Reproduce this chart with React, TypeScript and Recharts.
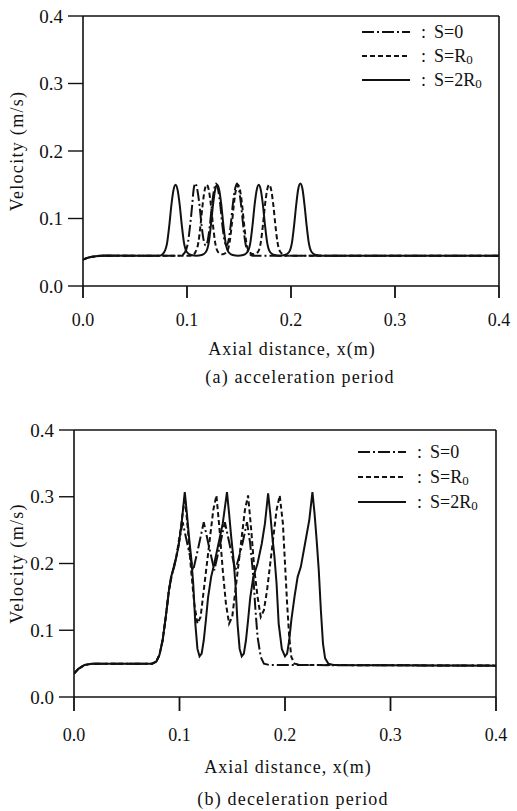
import React from "react";
import { LineChart, Line, XAxis, YAxis, ReferenceLine } from "recharts";

const X_TICKS = [0, 0.1, 0.2, 0.3, 0.4];
const Y_TICKS = [0, 0.1, 0.2, 0.3, 0.4];

// (a) acceleration period — [x (m), velocity (m/s)]
const accS0: number[][] = [
  [0, 0.039], [0.005, 0.042], [0.012, 0.044], [0.02, 0.045], [0.094, 0.045],
  [0.098, 0.05], [0.101, 0.065], [0.103, 0.09], [0.105, 0.12], [0.106, 0.138],
  [0.108, 0.152], [0.11, 0.142], [0.112, 0.12], [0.114, 0.09], [0.116, 0.068],
  [0.118, 0.06], [0.12, 0.068], [0.122, 0.09], [0.124, 0.12], [0.126, 0.142],
  [0.128, 0.152], [0.13, 0.142], [0.132, 0.12], [0.134, 0.09], [0.136, 0.068],
  [0.138, 0.06], [0.14, 0.068], [0.142, 0.09], [0.144, 0.12], [0.146, 0.142],
  [0.148, 0.152], [0.15, 0.142], [0.152, 0.12], [0.154, 0.09], [0.156, 0.065],
  [0.159, 0.05], [0.163, 0.045], [0.4, 0.045],
];
const accSR: number[][] = [
  [0, 0.039], [0.005, 0.042], [0.012, 0.044], [0.02, 0.045], [0.105, 0.045],
  [0.108, 0.05], [0.111, 0.065], [0.113, 0.09], [0.115, 0.12], [0.117, 0.142],
  [0.119, 0.15], [0.121, 0.142], [0.123, 0.12], [0.125, 0.09], [0.127, 0.065],
  [0.13, 0.05], [0.134, 0.047], [0.138, 0.05], [0.141, 0.065], [0.143, 0.09],
  [0.145, 0.12], [0.147, 0.142], [0.149, 0.15], [0.151, 0.142], [0.153, 0.12],
  [0.155, 0.09], [0.157, 0.065], [0.16, 0.05], [0.164, 0.047], [0.168, 0.05],
  [0.171, 0.065], [0.173, 0.09], [0.175, 0.12], [0.177, 0.142], [0.179, 0.15],
  [0.181, 0.142], [0.183, 0.12], [0.185, 0.09], [0.187, 0.065], [0.19, 0.05],
  [0.195, 0.045], [0.4, 0.045],
];
const accS2R: number[][] = [
  [0, 0.039], [0.005, 0.042], [0.012, 0.044], [0.02, 0.045], [0.074, 0.045],
  [0.078, 0.05], [0.081, 0.065], [0.083, 0.09], [0.085, 0.12], [0.087, 0.142],
  [0.089, 0.15], [0.091, 0.142], [0.093, 0.12], [0.095, 0.09], [0.097, 0.065],
  [0.1, 0.05], [0.104, 0.046], [0.109, 0.045], [0.114, 0.046], [0.118, 0.05],
  [0.121, 0.065], [0.123, 0.09], [0.125, 0.12], [0.127, 0.142], [0.129, 0.15],
  [0.131, 0.142], [0.133, 0.12], [0.135, 0.09], [0.137, 0.065], [0.14, 0.05],
  [0.144, 0.046], [0.149, 0.045], [0.154, 0.046], [0.158, 0.05], [0.161, 0.065],
  [0.163, 0.09], [0.165, 0.12], [0.167, 0.142], [0.169, 0.15], [0.171, 0.142],
  [0.173, 0.12], [0.175, 0.09], [0.177, 0.065], [0.18, 0.05], [0.184, 0.046],
  [0.189, 0.045], [0.194, 0.046], [0.198, 0.05], [0.201, 0.065], [0.203, 0.09],
  [0.205, 0.12], [0.207, 0.144], [0.209, 0.152], [0.211, 0.144], [0.213, 0.12],
  [0.215, 0.09], [0.217, 0.065], [0.22, 0.05], [0.224, 0.046], [0.23, 0.045],
  [0.4, 0.045],
];

// (b) deceleration period
const decS0: number[][] = [
  [0, 0.035], [0.004, 0.042], [0.01, 0.048], [0.018, 0.05], [0.074, 0.05],
  [0.078, 0.053], [0.081, 0.063], [0.084, 0.085], [0.087, 0.12], [0.09, 0.16],
  [0.093, 0.185], [0.097, 0.21], [0.1, 0.235], [0.103, 0.262], [0.108, 0.225],
  [0.113, 0.19], [0.118, 0.225], [0.123, 0.262], [0.128, 0.225], [0.133, 0.19],
  [0.138, 0.225], [0.143, 0.262], [0.148, 0.225], [0.153, 0.19], [0.159, 0.225],
  [0.164, 0.262], [0.167, 0.23], [0.17, 0.18], [0.172, 0.13], [0.174, 0.09],
  [0.177, 0.06], [0.18, 0.05], [0.185, 0.048], [0.4, 0.047],
];
const decSR: number[][] = [
  [0, 0.035], [0.004, 0.042], [0.01, 0.048], [0.018, 0.05], [0.074, 0.05],
  [0.078, 0.053], [0.081, 0.063], [0.084, 0.085], [0.087, 0.12], [0.09, 0.16],
  [0.093, 0.185], [0.097, 0.21], [0.101, 0.25], [0.105, 0.3], [0.108, 0.25],
  [0.111, 0.19], [0.114, 0.14], [0.117, 0.11], [0.12, 0.12], [0.123, 0.16],
  [0.126, 0.2], [0.129, 0.24], [0.132, 0.28], [0.135, 0.302], [0.138, 0.25],
  [0.141, 0.19], [0.144, 0.14], [0.147, 0.11], [0.15, 0.12], [0.153, 0.16],
  [0.156, 0.2], [0.159, 0.24], [0.162, 0.28], [0.165, 0.302], [0.168, 0.25],
  [0.171, 0.19], [0.174, 0.15], [0.177, 0.12], [0.18, 0.13], [0.183, 0.16],
  [0.186, 0.2], [0.189, 0.24], [0.192, 0.28], [0.195, 0.302], [0.198, 0.26],
  [0.2, 0.2], [0.202, 0.14], [0.204, 0.09], [0.206, 0.06], [0.209, 0.05],
  [0.215, 0.048], [0.4, 0.047],
];
const decS2R: number[][] = [
  [0, 0.035], [0.004, 0.042], [0.01, 0.048], [0.018, 0.05], [0.074, 0.05],
  [0.078, 0.053], [0.081, 0.063], [0.084, 0.085], [0.087, 0.12], [0.09, 0.16],
  [0.092, 0.18], [0.095, 0.195], [0.099, 0.225], [0.102, 0.26], [0.105, 0.307],
  [0.107, 0.275], [0.109, 0.24], [0.111, 0.21], [0.113, 0.17], [0.115, 0.11],
  [0.117, 0.072], [0.119, 0.061], [0.121, 0.065], [0.123, 0.085], [0.125, 0.115],
  [0.127, 0.148], [0.13, 0.18], [0.133, 0.2], [0.137, 0.23], [0.141, 0.26],
  [0.145, 0.307], [0.147, 0.275], [0.149, 0.24], [0.151, 0.21], [0.153, 0.17],
  [0.155, 0.11], [0.157, 0.072], [0.159, 0.061], [0.161, 0.065], [0.163, 0.085],
  [0.165, 0.115], [0.167, 0.148], [0.17, 0.18], [0.174, 0.2], [0.178, 0.23],
  [0.181, 0.26], [0.184, 0.305], [0.186, 0.275], [0.188, 0.24], [0.19, 0.21],
  [0.192, 0.17], [0.194, 0.11], [0.197, 0.072], [0.2, 0.061], [0.202, 0.065],
  [0.204, 0.085], [0.206, 0.115], [0.209, 0.15], [0.212, 0.18], [0.215, 0.195],
  [0.219, 0.23], [0.223, 0.265], [0.226, 0.307], [0.228, 0.275], [0.23, 0.235],
  [0.232, 0.19], [0.234, 0.13], [0.236, 0.08], [0.238, 0.058], [0.241, 0.05],
  [0.246, 0.048], [0.4, 0.047],
];

const FONT = "'Liberation Serif', 'DejaVu Serif', serif";
const INK = "#111";
// S=0 dash-dot, S=R0 dashed, S=2R0 solid
const DASHES = ["12 3 2 3", "5 3", undefined];

const toPts = (pairs: number[][]) => pairs.map(([x, y]) => ({ x, y }));

const SeriesName = ({ i }: { i: number }) => {
  if (i === 0) return <span>S=0</span>;
  const sub = <span style={{ fontSize: 13, verticalAlign: -2 }}>0</span>;
  return i === 1 ? <span>S=R{sub}</span> : <span>S=2R{sub}</span>;
};

const LegendBox = ({ top, left, gap }: { top: number; left: number; gap: number }) => (
  <div style={{ position: "absolute", top, left, fontFamily: FONT, fontSize: 18, color: INK }}>
    {DASHES.map((d, i) => (
      <div key={i} style={{ position: "absolute", top: i * gap - 11, left: 0, height: 22, whiteSpace: "nowrap" }}>
        <svg width={48} height={22} style={{ position: "absolute", left: 0, top: 0 }}>
          <line x1={0} y1={11} x2={48} y2={11} stroke={INK} strokeWidth={1.8} strokeDasharray={d} />
        </svg>
        <span style={{ position: "absolute", left: 59, top: 0, lineHeight: "22px" }}>:</span>
        <span style={{ position: "absolute", left: 72, top: 0, lineHeight: "22px" }}>
          <SeriesName i={i} />
        </span>
      </div>
    ))}
  </div>
);

type PanelProps = {
  top: number;
  height: number;
  plotTop: number;
  plotLeft: number;
  plotRight: number;
  plotBottom: number;
  xTickSize: number;
  xTickMargin: number;
  curve: "linear" | "monotone";
  series: number[][][];
};

const Panel = ({ top, height, plotTop, plotLeft, plotRight, plotBottom, xTickSize, xTickMargin, curve, series }: PanelProps) => {
  const xAxisH = 50;
  const tickStyle = { fontFamily: FONT, fontSize: 18, fill: INK };
  return (
    <div style={{ position: "absolute", top, left: 0 }}>
      <LineChart
        width={517}
        height={height}
        margin={{ top: plotTop, right: 517 - plotRight, bottom: height - plotBottom - xAxisH, left: 0 }}
      >
        <XAxis
          type="number"
          dataKey="x"
          domain={[0, 0.4]}
          ticks={X_TICKS}
          tickFormatter={(v: number) => v.toFixed(1)}
          height={xAxisH}
          tickSize={xTickSize}
          tickMargin={xTickMargin}
          tick={tickStyle}
          axisLine={{ stroke: INK, strokeWidth: 1.6 }}
          tickLine={{ stroke: INK, strokeWidth: 1.8 }}
          allowDataOverflow
        />
        <YAxis
          type="number"
          domain={[0, 0.4]}
          ticks={Y_TICKS}
          tickFormatter={(v: number) => v.toFixed(1)}
          width={plotLeft}
          tickSize={15}
          tickMargin={5}
          tick={{ ...tickStyle, fontSize: 19 }}
          axisLine={{ stroke: INK, strokeWidth: 1.6 }}
          tickLine={{ stroke: INK, strokeWidth: 1.4 }}
          allowDataOverflow
          label={{
            value: "Velocity (m/s)",
            angle: -90,
            position: "insideLeft",
            offset: 17,
            style: { textAnchor: "middle", fontFamily: FONT, fontSize: 18, fill: INK, letterSpacing: 1.3 },
          }}
        />
        <ReferenceLine y={0.4} stroke={INK} strokeWidth={1.6} />
        <ReferenceLine x={0.4} stroke={INK} strokeWidth={1.6} />
        {series.map((pairs, i) => (
          <Line
            key={i}
            data={toPts(pairs)}
            dataKey="y"
            type={curve}
            stroke={INK}
            strokeWidth={2}
            strokeDasharray={DASHES[i]}
            dot={false}
            activeDot={false}
            isAnimationActive={false}
          />
        ))}
      </LineChart>
    </div>
  );
};

const Caption = ({ top, center, text, spacing }: { top: number; center: number; text: string; spacing: number }) => (
  <div
    style={{
      position: "absolute",
      top,
      left: center - 150,
      width: 300,
      textAlign: "center",
      fontFamily: FONT,
      fontSize: 18,
      letterSpacing: spacing,
      color: INK,
      lineHeight: "20px",
    }}
  >
    {text}
  </div>
);

export default function App() {
  return (
    <div style={{ position: "absolute", top: 0, left: 0, width: 517, height: 811, background: "#fff" }}>
      <Panel
        top={0}
        height={400}
        plotTop={16}
        plotLeft={83}
        plotRight={499}
        plotBottom={286}
        xTickSize={12}
        xTickMargin={15}
        curve="monotone"
        series={[accS0, accSR, accS2R]}
      />
      <LegendBox top={32} left={362} gap={24} />
      <Caption top={339} center={292} text="Axial distance, x(m)" spacing={1} />
      <Caption top={367} center={300} text="(a) acceleration period" spacing={1.2} />

      <Panel
        top={400}
        height={411}
        plotTop={30}
        plotLeft={74}
        plotRight={496}
        plotBottom={297}
        xTickSize={14}
        xTickMargin={17}
        curve="linear"
        series={[decS0, decSR, decS2R]}
      />
      <LegendBox top={452} left={358} gap={25} />
      <Caption top={757} center={288} text="Axial distance, x(m)" spacing={1} />
      <Caption top={789} center={293} text="(b) deceleration period" spacing={1.2} />
    </div>
  );
}
